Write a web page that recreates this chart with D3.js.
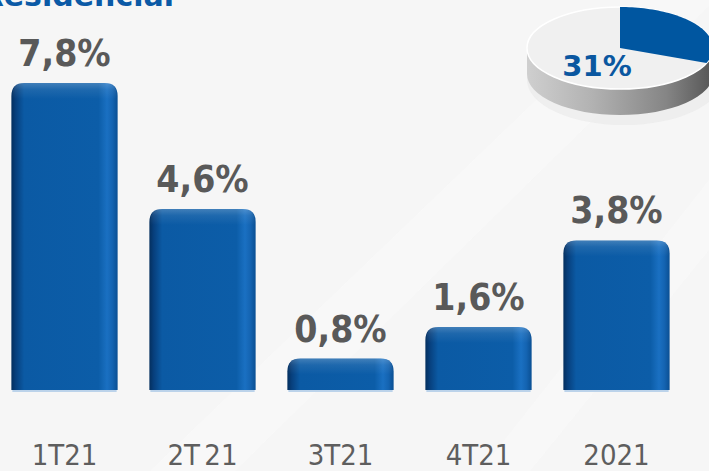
<!DOCTYPE html>
<html>
<head>
<meta charset="utf-8">
<script src="https://cdn.jsdelivr.net/npm/d3@7"></script>
<style>
  html, body { margin: 0; padding: 0; background: #f6f6f6; }
  svg { display: block; }
  .val { font-family: "DejaVu Sans Condensed", "DejaVu Sans", sans-serif; font-weight: bold; font-size: 37px; fill: #595959; }
  .cat { font-family: "DejaVu Sans Condensed", "DejaVu Sans", sans-serif; font-size: 29px; fill: #5e5e5e; word-spacing: -4px; }
  .title { font-family: "DejaVu Sans", sans-serif; font-weight: bold; font-size: 30px; fill: #0b5aa6; }
  .pielabel { font-family: "DejaVu Sans", sans-serif; font-weight: bold; font-size: 29px; fill: #0a57a0; }
</style>
</head>
<body>
<div id="chart"></div>
<script>
// data
const categories = ["1T21", "2T 21", "3T21", "4T21", "2021"];
const values = [7.8, 4.6, 0.8, 1.6, 3.8];
const valueLabels = ["7,8%", "4,6%", "0,8%", "1,6%", "3,8%"];
const pieValues = [31, 69];
const pieLabel = "31%";

const width = 709, height = 471;
const baseY = 390;

const svg = d3.select("#chart").append("svg")
	.attr("width", width)
	.attr("height", height);

const defs = svg.append("defs");

// bar side shading
const g1 = defs.append("linearGradient").attr("id", "barGrad")
	.attr("x1", "0%").attr("x2", "100%").attr("y1", "0%").attr("y2", "0%");
[["0%", "#042f5e"], ["4%", "#073f7c"], ["12%", "#0b5aa4"], ["82%", "#0c5da8"],
 ["90%", "#1a70c2"], ["95%", "#1464b2"], ["100%", "#0a4f93"]]
	.forEach(s => g1.append("stop").attr("offset", s[0]).attr("stop-color", s[1]));

// top bevel
const g2 = defs.append("linearGradient").attr("id", "topGrad")
	.attr("x1", "0%").attr("x2", "0%").attr("y1", "0%").attr("y2", "100%");
g2.append("stop").attr("offset", "0%").attr("stop-color", "#ffffff").attr("stop-opacity", 0.22);
g2.append("stop").attr("offset", "40%").attr("stop-color", "#ffffff").attr("stop-opacity", 0.08);
g2.append("stop").attr("offset", "100%").attr("stop-color", "#ffffff").attr("stop-opacity", 0);

// pie side
const g3 = defs.append("linearGradient").attr("id", "sideGrad")
	.attr("x1", "0%").attr("x2", "100%").attr("y1", "0%").attr("y2", "0%");
[["0%", "#cfcfcf"], ["35%", "#b2b2b2"], ["75%", "#858585"], ["100%", "#555555"]]
	.forEach(s => g3.append("stop").attr("offset", s[0]).attr("stop-color", s[1]));

// faint background streaks
svg.append("rect").attr("width", width).attr("height", height).attr("fill", "#f6f6f6");
const streaks = [[[150, 471], [235, 471], [715, 0], [640, 0]], [[480, 471], [530, 471], [709, 250], [709, 180]]];
svg.selectAll("polygon.streak").data(streaks).join("polygon")
	.attr("class", "streak")
	.attr("points", d => d.map(p => p.join(",")).join(" "))
	.attr("fill", "#fafafa").attr("opacity", 0.6);

// title (cut off at the top)
svg.append("text").attr("class", "title")
	.attr("x", 174).attr("y", 6)
	.attr("text-anchor", "end")
	.text("Residencial");

const x = d3.scaleBand()
	.domain(categories)
	.range([-4.5, 685.5])
	.paddingInner(0.23)
	.paddingOuter(0.115);

const y = d3.scaleLinear()
	.domain([0, 7.8])
	.range([baseY, 83]);

const bw = x.bandwidth();

function barPath(x0, y0, w, h, r) {
	r = Math.min(r, h);
	return `M${x0},${y0 + h}V${y0 + r}Q${x0},${y0} ${x0 + r},${y0}H${x0 + w - r}Q${x0 + w},${y0} ${x0 + w},${y0 + r}V${y0 + h}Z`;
}

const bars = svg.append("g").selectAll("g").data(values).join("g");

// thin reflection under bars
bars.append("rect")
	.attr("x", (d, i) => x(categories[i]) + 1)
	.attr("y", baseY)
	.attr("width", bw - 2)
	.attr("height", 2)
	.attr("fill", "#bcd3ea");

bars.append("path")
	.attr("d", (d, i) => barPath(x(categories[i]), y(d), bw, baseY - y(d), 13))
	.attr("fill", "url(#barGrad)");

bars.append("path")
	.attr("d", (d, i) => barPath(x(categories[i]) + 1, y(d), bw - 2, Math.min(16, baseY - y(d)), 12))
	.attr("fill", "url(#topGrad)");

// value labels
svg.append("g").selectAll("text").data(values).join("text")
	.attr("class", "val")
	.attr("x", (d, i) => x(categories[i]) + bw / 2)
	.attr("y", d => y(d) - 17)
	.attr("text-anchor", "middle")
	.text((d, i) => valueLabels[i]);

// category labels
svg.append("g").selectAll("text").data(categories).join("text")
	.attr("class", "cat")
	.attr("x", d => x(d) + bw / 2)
	.attr("y", 465)
	.attr("text-anchor", "middle")
	.text(d => d);

// 3d pie
const cx = 620, cy = 48, rx = 93, ry = 41, depth = 26;
const pieG = svg.append("g");

pieG.append("ellipse")
	.attr("cx", cx + 4).attr("cy", cy + depth + 6)
	.attr("rx", rx + 4).attr("ry", ry + 4)
	.attr("fill", "#e6e6e6").attr("opacity", 0.5);

pieG.append("path")
	.attr("d", `M${cx - rx},${cy}A${rx},${ry} 0 0 0 ${cx + rx},${cy}V${cy + depth}A${rx},${ry} 0 0 1 ${cx - rx},${cy + depth}Z`)
	.attr("fill", "url(#sideGrad)");

pieG.append("ellipse")
	.attr("cx", cx).attr("cy", cy)
	.attr("rx", rx).attr("ry", ry)
	.attr("fill", "#f0f0f0")
	.attr("stroke", "#ffffff").attr("stroke-width", 1.5);

const arcs = d3.pie().sort(null)(pieValues);
const ptOnEllipse = a => [cx + rx * Math.sin(a), cy - ry * Math.cos(a)];
const slice = arcs[0];
const steps = d3.range(0, 61).map(k => slice.startAngle + (slice.endAngle - slice.startAngle) * k / 60);
pieG.append("path")
	.attr("d", "M" + cx + "," + cy + "L" + steps.map(a => ptOnEllipse(a).join(",")).join("L") + "Z")
	.attr("fill", "#0056a0");

pieG.append("text").attr("class", "pielabel")
	.attr("x", 597).attr("y", 76)
	.attr("text-anchor", "middle")
	.text(pieLabel);
</script>
</body>
</html>
